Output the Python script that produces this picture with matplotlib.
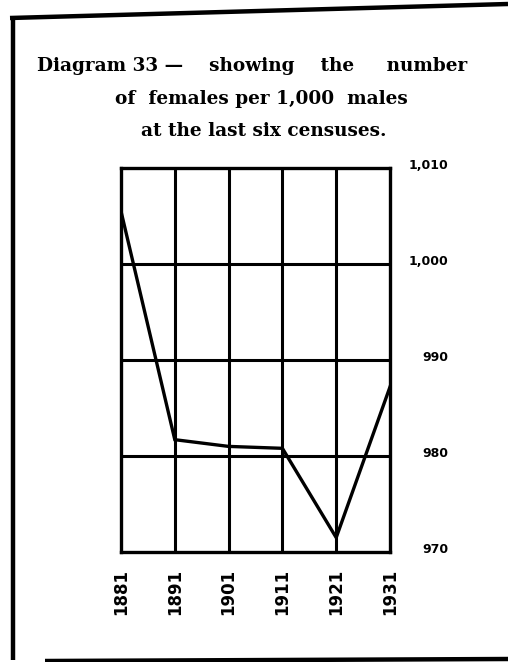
import numpy as np
import matplotlib
matplotlib.use("Agg")
import matplotlib.pyplot as plt
from matplotlib.lines import Line2D
from matplotlib.transforms import ScaledTranslation

years = [1881, 1891, 1901, 1911, 1921, 1931]
females_per_1000 = [1005.5, 981.7, 981.0, 980.8, 971.5, 987.2]
y_ticks = [970, 980, 990, 1000, 1010]
y_labels = ["970", "980", "990", "1,000", "1,010"]
title_lines = ["Diagram 33 \u2014    showing    the     number",
               "of  females per 1,000  males",
               "at the last six censuses."]

matplotlib.rcParams['font.family'] = 'DejaVu Serif'
W, H = 508, 662
fig = plt.figure(figsize=(W / 100, H / 100), dpi=100)
fig.patch.set_facecolor("white")

def px(x, y):
    return x / W, 1 - y / H

# hand-drawn frame round the diagram
for (x0, y0), (x1, y1), lw in [((10, 18), (508, 4), 3.2),
                               ((13, 17), (13, 660), 3.2),
                               ((45, 661), (508, 659), 3.2)]:
    a, b = px(x0, y0)
    c, d = px(x1, y1)
    fig.add_artist(Line2D([a, c], [b, d], color="black", lw=lw,
                          transform=fig.transFigure, solid_capstyle="butt"))

# title, three centred lines
for txt, xx, yy in zip(title_lines, [252, 261, 264], [66, 99, 131]):
    fig.text(xx / W, 1 - yy / H, txt, ha="center", va="center",
             fontsize=13.3, fontweight="heavy", color="black")

ax = fig.add_axes([121 / W, 1 - 552 / H, 269 / W, 384 / H])
ax.plot(years, females_per_1000, color="black", lw=2.4, solid_joinstyle="miter")
ax.set_xlim(years[0], years[-1])
ax.set_ylim(970, 1010)

ax.set_yticks(y_ticks)
ax.set_yticklabels(y_labels)
ax.set_xticks(years)
ax.set_xticklabels([str(y) for y in years], rotation=90)
ax.yaxis.tick_right()
ax.tick_params(axis="y", length=0, pad=42, labelsize=9, right=False)
ax.tick_params(axis="x", length=0, pad=12, labelsize=12, bottom=False)
for lab in ax.get_yticklabels() + ax.get_xticklabels():
    lab.set_fontweight("bold")
    lab.set_family("DejaVu Sans")
# right-aligned values, sitting a little above their rules
lift = ScaledTranslation(0, 4 / 100, fig.dpi_scale_trans)
for lab in ax.get_yticklabels():
    lab.set_ha("right")
    lab.set_transform(lab.get_transform() + lift)

for y in y_ticks[1:-1]:
    ax.axhline(y, color="black", lw=2.2)
for x in years[1:-1]:
    ax.axvline(x, color="black", lw=2.2)
for s in ax.spines.values():
    s.set_linewidth(2.4)

fig.savefig("out.png", dpi=100, facecolor="white")
